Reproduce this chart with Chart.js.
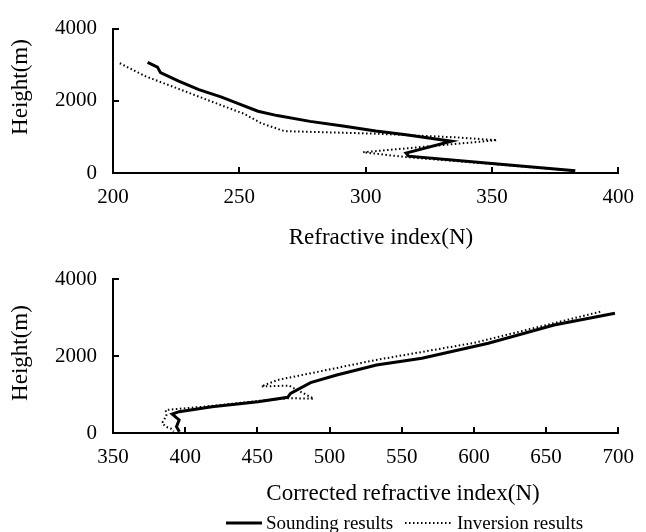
<!DOCTYPE html>
<html><head><meta charset="utf-8">
<script src="https://cdn.jsdelivr.net/npm/chart.js@4.4.0/dist/chart.umd.min.js"></script>
<style>
html,body{margin:0;padding:0;background:#fff;}
#w{position:relative;width:646px;height:532px;overflow:hidden;}
canvas{position:absolute;left:0;}
</style>
</head><body>
<div id="w">
<canvas id="c1" width="646" height="250" style="top:0"></canvas>
<canvas id="c2" width="646" height="282" style="top:250px"></canvas>
</div>
<script>
// ---------- DATA ----------
const seriesNames = ['Sounding results', 'Inversion results'];
const heightTicks = [0, 2000, 4000];
const refrTicks = [200, 250, 300, 350, 400];
const corrTicks = [350, 400, 450, 500, 550, 600, 650, 700];

// Top panel: refractive index (N) vs height (m)
const refrSoundingN = [213.7, 217.6, 218.8, 226, 234, 243, 249.6, 257.4, 265, 278, 291, 304, 316, 334, 316, 317, 350, 383];
const refrSoundingH = [3065, 2935, 2780, 2545, 2310, 2100, 1920, 1710, 1590, 1430, 1300, 1165, 1060, 880, 553, 467, 265, 60];
const refrInversionN = [202.7, 213, 226, 239, 252, 258.8, 267.8, 278, 291, 304, 316, 335, 352, 299, 316, 350, 383];
const refrInversionH = [3040, 2675, 2330, 1980, 1636, 1376, 1160, 1140, 1115, 1090, 1050, 990, 910, 575, 440, 250, 60];

// Bottom panel: corrected refractive index (N) vs height (m)
const corrSoundingN = [697.7, 655.5, 610, 564, 532.5, 518.8, 505, 486.9, 473, 471, 450.5, 418.6, 395.8, 391, 395.8, 394, 396];
const corrSoundingH = [3108, 2805, 2330, 1940, 1766, 1636, 1506, 1307, 1030, 927, 814, 684, 554, 493, 338, 164, 34];
const corrInversionN = [687.5, 600, 532, 498, 464, 452.7, 472, 489, 472, 450, 418, 393, 386.5, 387, 384, 386.5, 390, 392];
const corrInversionH = [3150, 2340, 1896, 1636, 1377, 1210, 1230, 890, 905, 830, 700, 620, 597, 450, 260, 164, 120, 40];

// ---------- HELPERS ----------
Chart.defaults.font.family = "'Liberation Serif', 'Times New Roman', serif";
Chart.defaults.color = '#000';
const pts = (xs, ys) => xs.map((v, i) => ({x: v, y: ys[i]}));

const innerTicks = {
  id: 'innerTicks',
  afterDatasetsDraw(chart) {
    const ctx = chart.ctx, a = chart.chartArea;
    const xs = chart.scales.x, ys = chart.scales.y;
    ctx.save();
    ctx.strokeStyle = '#000';
    ctx.lineWidth = 2;
    xs.ticks.forEach(t => {
      const px = Math.round(xs.getPixelForValue(t.value));
      ctx.beginPath(); ctx.moveTo(px, a.bottom); ctx.lineTo(px, a.bottom - 6); ctx.stroke();
    });
    ys.ticks.forEach(t => {
      const py = Math.round(ys.getPixelForValue(t.value));
      ctx.beginPath(); ctx.moveTo(a.left, py); ctx.lineTo(a.left + 6, py); ctx.stroke();
    });
    ctx.restore();
  }
};

const axisTitles = {
  id: 'axisTitles',
  afterDraw(chart, args, o) {
    const ctx = chart.ctx;
    ctx.save();
    ctx.fillStyle = '#000';
    ctx.font = "23px 'Liberation Serif'";
    ctx.textAlign = 'center';
    ctx.textBaseline = 'alphabetic';
    ctx.fillText(o.xText, o.xCenter, o.xBaseline);
    ctx.translate(o.yBaseline, o.yCenter);
    ctx.rotate(-Math.PI / 2);
    ctx.fillText(o.yText, 0, 0);
    ctx.restore();
  }
};

const lineLegend = {
  id: 'lineLegend',
  afterDraw(chart, args, o) {
    if (!o.show) return;
    const ctx = chart.ctx;
    ctx.save();
    ctx.font = "19px 'Liberation Serif'";
    ctx.fillStyle = '#000';
    ctx.textBaseline = 'alphabetic';
    ctx.textAlign = 'left';
    chart.data.datasets.forEach((ds, i) => {
      const it = o.items[i];
      ctx.strokeStyle = ds.borderColor;
      ctx.lineWidth = ds.borderWidth;
      ctx.setLineDash(ds.borderDash || []);
      ctx.beginPath(); ctx.moveTo(it.x0, o.lineY); ctx.lineTo(it.x1, o.lineY); ctx.stroke();
      ctx.setLineDash([]);
      ctx.fillText(ds.label, it.tx, o.textBaseline);
    });
    ctx.restore();
  }
};

function makeScales(xTicks, xMin, xMax, xHeight) {
  const common = {
    type: 'linear',
    grid: {display: false, drawTicks: false, drawOnChartArea: false},
    border: {display: true, color: '#000', width: 2},
    title: {display: false}
  };
  return {
    x: Object.assign({}, common, {
      min: xMin, max: xMax,
      afterBuildTicks: s => { s.ticks = xTicks.map(v => ({value: v})); },
      afterFit: s => { s.height = xHeight; },
      ticks: {padding: 12, font: {size: 21}, color: '#000', maxRotation: 0, autoSkip: false, callback: v => String(v)}
    }),
    y: Object.assign({}, common, {
      min: 0, max: 4000,
      afterBuildTicks: s => { s.ticks = heightTicks.map(v => ({value: v})); },
      afterFit: s => { s.width = 113; },
      ticks: {padding: 16, font: {size: 21}, color: '#000', callback: v => String(v)}
    })
  };
}

function datasets(sN, sH, iN, iH) {
  return [
    {label: seriesNames[0], data: pts(sN, sH), borderColor: '#000', borderWidth: 3, pointRadius: 0, tension: 0, fill: false},
    {label: seriesNames[1], data: pts(iN, iH), borderColor: '#000', borderWidth: 2, borderDash: [1.5, 2.5], pointRadius: 0, tension: 0, fill: false}
  ];
}

new Chart(document.getElementById('c1'), {
  type: 'line',
  data: {datasets: datasets(refrSoundingN, refrSoundingH, refrInversionN, refrInversionH)},
  options: {
    responsive: false, animation: false, devicePixelRatio: 1,
    layout: {padding: {top: 19, right: 21, bottom: 0, left: 0}},
    scales: makeScales(refrTicks, 200, 400, 77),
    plugins: {
      legend: {display: false}, tooltip: {enabled: false},
      axisTitles: {xText: 'Refractive index(N)', xCenter: 381, xBaseline: 244, yText: 'Height(m)', yBaseline: 27, yCenter: 87},
      lineLegend: {show: false}
    }
  },
  plugins: [innerTicks, axisTitles, lineLegend]
});

new Chart(document.getElementById('c2'), {
  type: 'line',
  data: {datasets: datasets(corrSoundingN, corrSoundingH, corrInversionN, corrInversionH)},
  options: {
    responsive: false, animation: false, devicePixelRatio: 1,
    layout: {padding: {top: 29, right: 21, bottom: 0, left: 0}},
    scales: makeScales(corrTicks, 350, 700, 99),
    plugins: {
      legend: {display: false}, tooltip: {enabled: false},
      axisTitles: {xText: 'Corrected refractive index(N)', xCenter: 403, xBaseline: 250, yText: 'Height(m)', yBaseline: 27, yCenter: 103},
      lineLegend: {show: true, lineY: 273, textBaseline: 279,
        items: [{x0: 226, x1: 262, tx: 266}, {x0: 405, x1: 452, tx: 457}]}
    }
  },
  plugins: [innerTicks, axisTitles, lineLegend]
});
</script>
</body></html>
